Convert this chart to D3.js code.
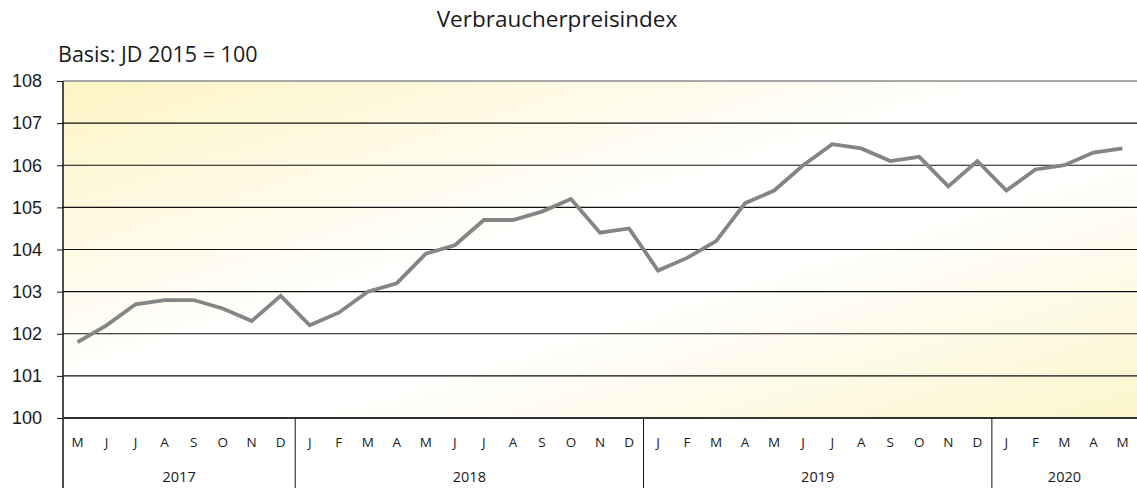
<!DOCTYPE html>
<html><head><meta charset="utf-8">
<script src="https://cdn.jsdelivr.net/npm/d3@7"></script>
<style>body{margin:0;background:#fff}svg{display:block}text{font-family:"Open Sans","Noto Sans",sans-serif;fill:#1a1a1a}</style>
</head><body><svg id="c" width="1137" height="488"></svg>
<script>
const title = "Verbraucherpreisindex";
const subtitle = "Basis: JD 2015 = 100";
const months = ["M","J","J","A","S","O","N","D",
  "J","F","M","A","M","J","J","A","S","O","N","D",
  "J","F","M","A","M","J","J","A","S","O","N","D",
  "J","F","M","A","M"];
const years = [{label:"2017",count:8},{label:"2018",count:12},{label:"2019",count:12},{label:"2020",count:5}];
const values = [101.8,102.2,102.7,102.8,102.8,102.6,102.3,102.9,
  102.2,102.5,103.0,103.2,103.9,104.1,104.7,104.7,104.9,105.2,104.4,104.5,
  103.5,103.8,104.2,105.1,105.4,106.0,106.5,106.4,106.1,106.2,105.5,106.1,
  105.4,105.9,106.0,106.3,106.4];
const yTicks = [100,101,102,103,104,105,106,107,108];

const svg = d3.select("#c");
const L = 63, R = 1137, T = 81, B = 418;
const idx = d3.range(values.length);
const x = d3.scaleBand().domain(idx).range([L, R]);
const y = d3.scaleLinear().domain([100,108]).range([B, T]);

const defs = svg.append("defs");
const g = defs.append("linearGradient").attr("id","bg").attr("x1","0").attr("y1","0").attr("x2","1").attr("y2","1");
g.append("stop").attr("offset","0").attr("stop-color","#fdf4c4");
g.append("stop").attr("offset","0.45").attr("stop-color","#ffffff");
g.append("stop").attr("offset","0.6").attr("stop-color","#ffffff");
g.append("stop").attr("offset","1").attr("stop-color","#fcf5cc");
svg.append("rect").attr("x",L).attr("y",T).attr("width",R-L).attr("height",B-T).attr("fill","url(#bg)");

// gridlines
svg.append("g").selectAll("line").data(yTicks.filter(d=>d>100 && d<108)).join("line")
  .attr("x1",L).attr("x2",R).attr("y1",d=>y(d)).attr("y2",d=>y(d))
  .attr("stroke","#111").attr("stroke-width",1.2);
svg.append("line").attr("x1",L).attr("x2",R).attr("y1",y(108)).attr("y2",y(108)).attr("stroke","#a6a6a6").attr("stroke-width",2);

// y axis
const ya = svg.append("g").attr("transform",`translate(${L},0)`)
  .call(d3.axisLeft(y).tickValues(yTicks).tickSize(6).tickPadding(15).tickFormat(d3.format("d")));
ya.select(".domain").remove();
ya.selectAll(".tick line").attr("stroke","#111");
ya.selectAll(".tick text").attr("font-size",18).attr("fill","#1a1a1a").style("font-family","'Liberation Sans',Arial,sans-serif");
svg.append("line").attr("x1",L).attr("x2",L).attr("y1",T).attr("y2",488).attr("stroke","#111").attr("stroke-width",1.5);

// bottom axis line
svg.append("line").attr("x1",L).attr("x2",R).attr("y1",B).attr("y2",B).attr("stroke","#333").attr("stroke-width",2);

// month labels
svg.append("g").selectAll("text").data(months).join("text")
  .attr("x",(d,i)=>x(i)+x.bandwidth()/2).attr("y",447)
  .attr("text-anchor","middle").attr("font-size",13.5).text(d=>d);

// year groups
let start = 0;
const yg = svg.append("g");
years.forEach((yr,k)=>{
  const x0 = x(start), x1 = start+yr.count < values.length ? x(start+yr.count) : R;
  yg.append("text").attr("x",(x0+x1)/2).attr("y",482).attr("text-anchor","middle").attr("font-size",14.5).text(yr.label);
  if (k>0) yg.append("line").attr("x1",x0).attr("x2",x0).attr("y1",B).attr("y2",488).attr("stroke","#111").attr("stroke-width",1);
  start += yr.count;
});

// line
svg.append("path").datum(values)
  .attr("d", d3.line().x((d,i)=>x(i)+x.bandwidth()/2).y(d=>y(d)))
  .attr("fill","none").attr("stroke","#858585").attr("stroke-width",3.8).attr("stroke-linejoin","miter");

svg.append("text").attr("x",557).attr("y",27).attr("text-anchor","middle").attr("font-size",22.5).text(title);
svg.append("text").attr("x",58).attr("y",62).attr("font-size",21.5).text(subtitle);
</script></body></html>
